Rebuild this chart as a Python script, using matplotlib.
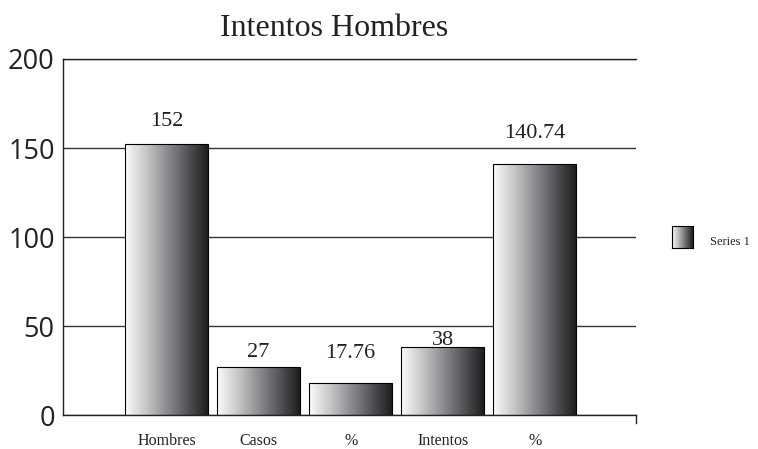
import numpy as np
import matplotlib.pyplot as plt
from matplotlib.colors import LinearSegmentedColormap

# ======================================
# Data
# ======================================

categories = ["Hombres", "Casos", "%", "Intentos", "%"]
values = [152, 27, 17.76, 38, 140.74]
value_labels = ["152", "27", "17.76", "38", "140.74"]
label_offsets = [13, 7, 18, 1.5, 19]   # points above bar top, as in the original
y_ticks = [0, 50, 100, 150, 200]

SERIF = "Liberation Serif"
SANS = "Open Sans"

# ======================================
# Gradient colormap
# ======================================

grad_cmap = LinearSegmentedColormap.from_list(
    "bar_grad",
    ["#fbfbfb", "#c8c8ca", "#8e8e92", "#55555a", "#1e1e1e"]
)
gradient = np.linspace(0, 1, 256).reshape(1, -1)

# ======================================
# Figure
# ======================================

fig = plt.figure(figsize=(7.58, 4.49), dpi=100)
ax = fig.add_axes([0.0831, 0.0757, 0.7559, 0.7929])

x = np.arange(len(categories))
bars = ax.bar(x, values, width=0.9, color="none",
              edgecolor="black", linewidth=0.8, zorder=3)

for bar in bars:
    x0, y0 = bar.get_x(), bar.get_y()
    w, h = bar.get_width(), bar.get_height()
    im = ax.imshow(gradient, cmap=grad_cmap, aspect="auto",
                   extent=[x0, x0 + w, y0, y0 + h], zorder=2)
    im.set_clip_path(bar)

ax.set_xlim(-1.125, 5.1)
ax.set_ylim(0, 200)

for xi, v, lab, off in zip(x, values, value_labels, label_offsets):
    ax.annotate(lab, (xi, v), xytext=(0, off), textcoords="offset points",
                ha="center", va="baseline", fontsize=16, family=SERIF,
                color="#222222")

# grid and spines
ax.set_yticks(y_ticks)
ax.yaxis.grid(True, color="#333333", linewidth=1.0)
ax.set_axisbelow(True)
for s in ["left", "top", "bottom"]:
    ax.spines[s].set_color("#222222")
    ax.spines[s].set_linewidth(1.0)
ax.spines["right"].set_visible(False)
ax.plot([1, 1], [0, -0.022], transform=ax.transAxes, color="#222222",
        linewidth=1.0, clip_on=False)

ax.tick_params(axis="y", length=0, pad=6, labelsize=19.5)
for t in ax.get_yticklabels():
    t.set_family(SANS)
    t.set_color("#222222")

ax.set_xticks(x)
ax.set_xticklabels(categories, family=SERIF, fontsize=11.5, color="#222222")
ax.tick_params(axis="x", length=0, pad=13)

fig.text(0.441, 0.937, "Intentos Hombres", ha="center", va="center",
         family=SERIF, fontsize=23, color="#222222")

# ======================================
# Legend
# ======================================

lax = fig.add_axes([672 / 758, 1 - 248 / 449, 21 / 758, 22 / 449])
lax.imshow(gradient, cmap=grad_cmap, aspect="auto", extent=[0, 1, 0, 1])
lax.set_xticks([])
lax.set_yticks([])
for s in lax.spines.values():
    s.set_linewidth(0.8)
    s.set_color("black")
fig.text(710 / 758, 1 - 242 / 449, "Series 1", ha="left", va="center",
         family=SERIF, fontsize=9, color="#222222")

plt.savefig("out.png", dpi=100)
